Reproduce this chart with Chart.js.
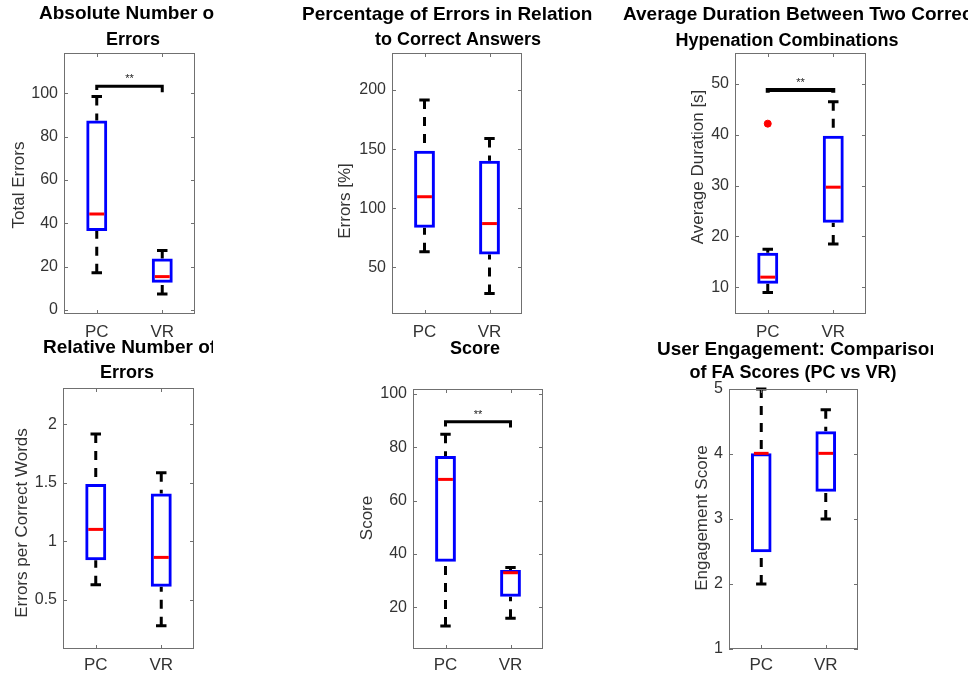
<!DOCTYPE html>
<html>
<head>
<meta charset="utf-8">
<script src="https://cdn.jsdelivr.net/npm/chart.js@4.4.0/dist/chart.umd.min.js"></script>
<style>
  body { margin: 0; background: #fff; }
  #wrap { position: relative; width: 968px; height: 674px; overflow: hidden; }
  #wrap canvas { position: absolute; left: 0; top: 0; }
</style>
</head>
<body>
<div id="wrap">
  <canvas id="c1" width="968" height="674"></canvas>
  <canvas id="c2" width="968" height="674"></canvas>
  <canvas id="c3" width="968" height="674"></canvas>
  <canvas id="c4" width="968" height="674"></canvas>
  <canvas id="c5" width="968" height="674"></canvas>
  <canvas id="c6" width="968" height="674"></canvas>
</div>
<script>
const groups = ['PC', 'VR'];

// Absolute Number of Errors
const absLow = [17.2, 7.4];
const absQ1 = [36.5, 12.6];
const absMed = [44.3, 15.4];
const absQ3 = [87.4, 23.8];
const absHigh = [98.5, 27.4];
const absTicks = [0, 20, 40, 60, 80, 100];
const absSig = [103.2, 101.5, 100.5]; // bracket level, PC end, VR end

// Percentage of Errors in Relation to Correct Answers
const pctLow = [63.2, 27.9];
const pctQ1 = [83.5, 60.9];
const pctMed = [109.7, 87];
const pctQ3 = [148.6, 140.2];
const pctHigh = [191.5, 159];
const pctTicks = [50, 100, 150, 200];

// Average Duration Between Two Correct Hypenation Combinations
const durLow = [9.0, 18.5];
const durQ1 = [10.7, 22.7];
const durMed = [12.0, 29.7];
const durQ3 = [16.8, 39.8];
const durHigh = [17.5, 46.5];
const durOutliers = [42.2, null];
const durTicks = [10, 20, 30, 40, 50];
const durSig = [48.8, 48.3, 48.3];

// Relative Number of Errors
const relLow = [0.63, 0.28];
const relQ1 = [0.84, 0.614];
const relMed = [1.103, 0.864];
const relQ3 = [1.49, 1.41];
const relHigh = [1.917, 1.587];
const relTicks = [0.5, 1, 1.5, 2];

// Score
const scoreLow = [13, 15.9];
const scoreQ1 = [37.1, 24];
const scoreMed = [68, 33];
const scoreQ3 = [76.8, 34];
const scoreHigh = [84.9, 35];
const scoreTicks = [20, 40, 60, 80, 100];
const scoreSig = [89.6, 87.8, 87.5];

// User Engagement
const engLow = [2.0, 3.0];
const engQ1 = [2.49, 3.42];
const engMed = [4.01, 4.01];
const engQ3 = [4.01, 4.35];
const engHigh = [5.0, 4.68];
const engTicks = [1, 2, 3, 4, 5];

const FONT = '"Liberation Sans", Arial, Helvetica, sans-serif';
Chart.defaults.font.family = FONT;

const boxDecor = {
  id: 'boxDecor',
  beforeDatasetsDraw(chart, args, o) {
    const { ctx, scales: { y } } = chart;
    const bars = chart.getDatasetMeta(0).data;
    ctx.save();
    ctx.strokeStyle = '#000';
    ctx.lineWidth = 3;
    bars.forEach((bar, i) => {
      const { x: cx, width } = bar.getProps(['x', 'width'], true);
      const hw = width / 2;
      const yLo = y.getPixelForValue(o.low[i]);
      const yHi = y.getPixelForValue(o.high[i]);
      const yQ1 = y.getPixelForValue(o.q1[i]);
      const yQ3 = y.getPixelForValue(o.q3[i]);
      ctx.setLineDash([9, 8]);
      ctx.beginPath();
      ctx.moveTo(cx, yHi); ctx.lineTo(cx, yQ3);
      ctx.moveTo(cx, yLo); ctx.lineTo(cx, yQ1);
      ctx.stroke();
      ctx.setLineDash([]);
      ctx.beginPath();
      ctx.moveTo(cx - hw / 2, yHi); ctx.lineTo(cx + hw / 2, yHi);
      ctx.moveTo(cx - hw / 2, yLo); ctx.lineTo(cx + hw / 2, yLo);
      ctx.stroke();
    });
    ctx.restore();
  },
  afterDatasetsDraw(chart, args, o) {
    const { ctx, scales: { x, y } } = chart;
    const bars = chart.getDatasetMeta(0).data;
    ctx.save();
    // medians
    ctx.strokeStyle = '#ff0000';
    ctx.lineWidth = 3;
    bars.forEach((bar, i) => {
      const { x: cx, width } = bar.getProps(['x', 'width'], true);
      const ym = y.getPixelForValue(o.med[i]);
      ctx.beginPath();
      ctx.moveTo(cx - width / 2 + 3, ym);
      ctx.lineTo(cx + width / 2 - 3, ym);
      ctx.stroke();
    });
    // significance bracket
    if (o.sig) {
      const x0 = x.getPixelForValue(0), x1 = x.getPixelForValue(1);
      const yb = y.getPixelForValue(o.sig[0]);
      ctx.strokeStyle = '#000';
      ctx.lineWidth = o.sigWidth || 3;
      ctx.beginPath();
      ctx.moveTo(x0, y.getPixelForValue(o.sig[1]));
      ctx.lineTo(x0, yb);
      ctx.lineTo(x1, yb);
      ctx.lineTo(x1, y.getPixelForValue(o.sig[2]));
      ctx.stroke();
      ctx.fillStyle = '#222';
      ctx.font = '11px ' + FONT;
      ctx.textAlign = 'center';
      ctx.textBaseline = 'middle';
      ctx.fillText('**', (x0 + x1) / 2, yb - 7);
    }
    ctx.restore();
  },
  afterDraw(chart, args, o) {
    const { ctx, chartArea: a, scales: { x, y } } = chart;
    ctx.save();
    // axes box with inward ticks
    ctx.strokeStyle = '#707070';
    ctx.lineWidth = 1;
    ctx.strokeRect(a.left + 0.5, a.top + 0.5, a.width - 1, a.height - 1);
    ctx.beginPath();
    y.ticks.forEach(t => {
      const py = Math.round(y.getPixelForValue(t.value)) + 0.5;
      ctx.moveTo(a.left, py); ctx.lineTo(a.left + 4, py);
      ctx.moveTo(a.right, py); ctx.lineTo(a.right - 4, py);
    });
    groups.forEach((g, i) => {
      const px = Math.round(x.getPixelForValue(i)) + 0.5;
      ctx.moveTo(px, a.top); ctx.lineTo(px, a.top + 4);
      ctx.moveTo(px, a.bottom); ctx.lineTo(px, a.bottom - 4);
    });
    ctx.stroke();
    // y axis title
    ctx.fillStyle = '#333';
    ctx.font = '17px ' + FONT;
    ctx.textAlign = 'center';
    ctx.textBaseline = 'middle';
    ctx.save();
    ctx.translate(o.yTitle.x, o.yTitle.y);
    ctx.rotate(-Math.PI / 2);
    ctx.fillText(o.yTitle.text, 0, 0);
    ctx.restore();
    // title, clipped like the source panels
    ctx.beginPath();
    ctx.rect(0, 0, o.title.clip, 674);
    ctx.clip();
    ctx.fillStyle = '#000';
    o.title.lines.forEach(line => {
      ctx.font = 'bold ' + line.size + 'px ' + FONT;
      ctx.textAlign = line.align;
      ctx.fillText(line.text, line.x, line.y);
    });
    ctx.restore();
  }
};

function makeChart(id, p) {
  const xHeight = Math.min(40, 674 - p.area[3]);
  const datasets = [{
    type: 'bar',
    data: groups.map((g, i) => [p.q1[i], p.q3[i]]),
    backgroundColor: 'rgba(0,0,0,0)',
    borderColor: '#0000ff',
    borderWidth: 3,
    borderSkipped: false,
    barPercentage: 0.32,
    categoryPercentage: 1
  }];
  if (p.outliers) {
    datasets.push({
      type: 'line',
      data: p.outliers,
      showLine: false,
      pointRadius: 3.5,
      pointBackgroundColor: '#ff0000',
      pointBorderColor: '#ff0000'
    });
  }
  return new Chart(document.getElementById(id), {
    type: 'bar',
    data: { labels: groups, datasets },
    plugins: [boxDecor],
    options: {
      responsive: false,
      animation: false,
      devicePixelRatio: 1,
      events: [],
      layout: {
        padding: { left: p.area[0] - 50, right: 968 - p.area[1], top: p.area[2], bottom: 674 - p.area[3] - xHeight }
      },
      plugins: {
        legend: { display: false },
        tooltip: { enabled: false },
        boxDecor: {
          low: p.low, q1: p.q1, med: p.med, q3: p.q3, high: p.high,
          sig: p.sig, sigWidth: p.sigWidth, title: p.title, yTitle: p.yTitle
        }
      },
      scales: {
        x: {
          type: 'category',
          offset: true,
          grid: { display: false, drawTicks: false },
          border: { display: false },
          ticks: { color: '#333', font: { size: 17 }, padding: p.xPad },
          afterFit: s => { s.height = xHeight; }
        },
        y: {
          type: 'linear',
          min: p.yMin,
          max: p.yMax,
          grid: { display: false, drawTicks: false },
          border: { display: false },
          afterBuildTicks: s => { s.ticks = p.ticks.map(v => ({ value: v })); },
          ticks: { color: '#333', font: { size: 16 }, padding: 6, callback: v => String(v) },
          afterFit: s => { s.width = 50; }
        }
      }
    }
  });
}

makeChart('c1', {
  low: absLow, q1: absQ1, med: absMed, q3: absQ3, high: absHigh, ticks: absTicks,
  yMin: -1.85, yMax: 118.6, sig: absSig,
  area: [64, 195, 53, 314], xPad: 8,
  title: { clip: 214, lines: [
    { text: 'Absolute Number of', x: 39, y: 14, align: 'left', size: 19 },
    { text: 'Errors', x: 133, y: 40, align: 'center', size: 18 }
  ] },
  yTitle: { text: 'Total Errors', x: 19, y: 185 }
});

makeChart('c2', {
  low: pctLow, q1: pctQ1, med: pctMed, q3: pctQ3, high: pctHigh, ticks: pctTicks,
  yMin: 10.5, yMax: 231.3,
  area: [392, 522, 53, 314], xPad: 8,
  title: { clip: 592, lines: [
    { text: 'Percentage of Errors in Relation', x: 302, y: 15, align: 'left', size: 19 },
    { text: 'to Correct Answers', x: 458, y: 40, align: 'center', size: 18 }
  ] },
  yTitle: { text: 'Errors [%]', x: 345, y: 201 }
});

makeChart('c3', {
  low: durLow, q1: durQ1, med: durMed, q3: durQ3, high: durHigh, ticks: durTicks,
  outliers: durOutliers,
  yMin: 4.75, yMax: 56.1, sig: durSig, sigWidth: 4,
  area: [735, 866, 53, 314], xPad: 8,
  title: { clip: 968, lines: [
    { text: 'Average Duration Between Two Correct', x: 623, y: 15, align: 'left', size: 19 },
    { text: 'Hypenation Combinations', x: 787, y: 41, align: 'center', size: 18 }
  ] },
  yTitle: { text: 'Average Duration [s]', x: 698, y: 167 }
});

makeChart('c4', {
  low: relLow, q1: relQ1, med: relMed, q3: relQ3, high: relHigh, ticks: relTicks,
  yMin: 0.082, yMax: 2.31,
  area: [63, 194, 388, 649], xPad: 6,
  title: { clip: 213, lines: [
    { text: 'Relative Number of', x: 43, y: 348, align: 'left', size: 19 },
    { text: 'Errors', x: 127, y: 373, align: 'center', size: 18 }
  ] },
  yTitle: { text: 'Errors per Correct Words', x: 22, y: 523 }
});

makeChart('c5', {
  low: scoreLow, q1: scoreQ1, med: scoreMed, q3: scoreQ3, high: scoreHigh, ticks: scoreTicks,
  yMin: 4.4, yMax: 101.9, sig: scoreSig,
  area: [413, 543, 389, 649], xPad: 6,
  title: { clip: 968, lines: [
    { text: 'Score', x: 475, y: 349, align: 'center', size: 18 }
  ] },
  yTitle: { text: 'Score', x: 367, y: 518 }
});

makeChart('c6', {
  low: engLow, q1: engQ1, med: engMed, q3: engQ3, high: engHigh, ticks: engTicks,
  yMin: 1, yMax: 5,
  area: [729, 858, 389, 649], xPad: 6,
  title: { clip: 933, lines: [
    { text: 'User Engagement: Comparison', x: 657, y: 350, align: 'left', size: 19 },
    { text: 'of FA Scores (PC vs VR)', x: 793, y: 373, align: 'center', size: 18 }
  ] },
  yTitle: { text: 'Engagement Score', x: 702, y: 518 }
});
</script>
</body>
</html>
